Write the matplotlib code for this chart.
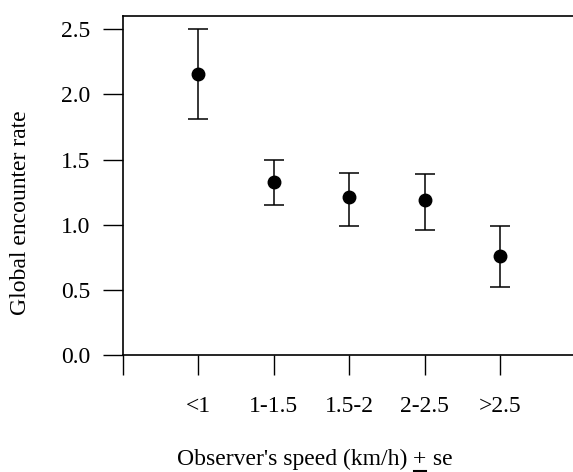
import matplotlib
matplotlib.use("Agg")
import matplotlib.pyplot as plt
from matplotlib.lines import Line2D

categories = ["<1", "1-1.5", "1.5-2", "2-2.5", ">2.5"]
rate = [2.16, 1.33, 1.21, 1.19, 0.76]
upper = [2.50, 1.50, 1.40, 1.39, 0.99]
lower = [1.81, 1.15, 0.99, 0.96, 0.52]
yticks = [0.0, 0.5, 1.0, 1.5, 2.0, 2.5]

plt.rcParams['font.family'] = ['Liberation Serif', 'DejaVu Serif']
FS = 17
W, H = 573, 472
fig = plt.figure(figsize=(W / 100, H / 100), dpi=100)

x0, y0 = 122.7, 355.0
px_per_x = 75.5
px_per_y = (355.0 - 29.3) / 2.5
ax = fig.add_axes([x0 / W, (H - y0) / H, 6 * px_per_x / W, (y0 - 16) / H])
ax.set_xlim(0, 6)
ax.set_ylim(0, (y0 - 16) / px_per_y)

xs = list(range(1, len(categories) + 1))
yerr = [[r - l for r, l in zip(rate, lower)], [u - r for r, u in zip(rate, upper)]]
ax.errorbar(xs, rate, yerr=yerr, fmt='o', color='black', ms=9,
            ecolor='black', elinewidth=1.1, capsize=7.2, capthick=1.1)

ax.set_xticks([0] + xs)
ax.set_xticklabels([''] + categories, fontsize=FS)
ax.set_yticks(yticks)
ax.set_yticklabels([f"{v:.1f}" for v in yticks], fontsize=FS)
ax.tick_params(axis='x', direction='out', length=14.4, width=1.0, pad=15)
ax.tick_params(axis='y', direction='out', length=14.4, width=1.0, pad=9)
for s in ['left', 'bottom', 'top']:
    ax.spines[s].set_linewidth(1.2)
ax.spines['right'].set_visible(False)

fig.text(21 / W, 1 - 213 / H, "Global encounter rate", rotation=90,
         ha='center', va='center', fontsize=FS)

base = 1 - 465 / H
t1 = fig.text(177 / W, base, "Observer's speed (km/h) ", ha='left',
              va='baseline', fontsize=FS)
t2 = fig.text(0, 0, "+", fontsize=FS, ha='left', va='baseline')
t3 = fig.text(0, 0, " se", fontsize=FS, ha='left', va='baseline')
fig.canvas.draw()
r = fig.canvas.get_renderer()
b1 = t1.get_window_extent(r)
t2.set_position((b1.x1 / W, base))
fig.canvas.draw()
b2 = t2.get_window_extent(r)
t3.set_position((b2.x1 / W, base))
fig.add_artist(Line2D([b2.x0 / W + 0.001, b2.x1 / W - 0.001],
                      [1 - 470.5 / H, 1 - 470.5 / H],
                      transform=fig.transFigure, color='black', lw=1.5))

fig.savefig("out.png", dpi=100)
